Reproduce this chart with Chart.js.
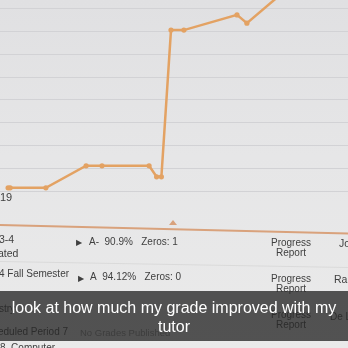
<!DOCTYPE html>
<html>
<head>
<meta charset="utf-8">
<script src="https://cdn.jsdelivr.net/npm/chart.js@4.4.1/dist/chart.umd.min.js"></script>
<style>
  html, body {
    margin: 0;
    padding: 0;
  }
  body {
    width: 348px;
    height: 348px;
    overflow: hidden;
    position: relative;
    font-family: "Liberation Sans", Arial, sans-serif;
    color: #404040;
    background: linear-gradient(180deg, #e0e0e2 0%, #e6e6e7 45%, #eaeaea 100%);
  }
  .chart-box {
    position: absolute;
    left: 0;
    top: 0;
    width: 348px;
    height: 200px;
  }
  .t {
    position: absolute;
    font-size: 10px;
    line-height: 10px;
    white-space: nowrap;
  }
  .c {
    text-align: center;
  }
  .timeline {
    position: absolute;
    left: -2px;
    top: 224px;
    width: 356px;
    height: 2px;
    background: #d9a27c;
    transform-origin: 0 50%;
    transform: rotate(1.4deg);
  }
  .marker {
    position: absolute;
    left: 169px;
    top: 220px;
    width: 0;
    height: 0;
    border-left: 4px solid transparent;
    border-right: 4px solid transparent;
    border-bottom: 5px solid #d9a27c;
  }
  .sep {
    position: absolute;
    left: 0;
    width: 348px;
    height: 1px;
    background: #dadada;
    transform-origin: 0 50%;
    transform: rotate(1deg);
  }
  .caption {
    position: absolute;
    left: 0;
    top: 291px;
    width: 348px;
    height: 50px;
    background: rgba(38, 38, 38, 0.78);
    color: #fff;
    font-size: 16px;
    line-height: 19px;
    text-align: center;
    padding-top: 7px;
    box-sizing: border-box;
  }
</style>
</head>
<body>
  <div class="chart-box"><canvas id="gradeChart" width="348" height="200"></canvas></div>

  <div class="t" style="left:0; top:192px; font-size:11px;">19</div>

  <div class="timeline"></div>
  <div class="marker"></div>

  <!-- row 1 -->
  <div class="t" style="left:-1px; top:234px; font-size:10.5px;">3-4</div>
  <div class="t" style="left:-2px; top:248px; font-size:10.5px;">ated</div>
  <div class="t" style="left:76px; top:238px; font-size:8px;">&#9654;</div>
  <div class="t" style="left:89px; top:237px;">A-&nbsp;&nbsp;90.9%&nbsp;&nbsp;&nbsp;Zeros: 1</div>
  <div class="t c" style="left:267px; top:238px; width:48px;">Progress<br>Report</div>
  <div class="t" style="left:339px; top:238px; font-size:10.5px;">Jo</div>

  <div class="sep" style="top:261px;"></div>

  <!-- row 2 -->
  <div class="t" style="left:-1px; top:269px;">4 Fall Semester</div>
  <div class="t" style="left:78px; top:274px; font-size:8px;">&#9654;</div>
  <div class="t" style="left:90px; top:272px;">A&nbsp;&nbsp;94.12%&nbsp;&nbsp;&nbsp;Zeros: 0</div>
  <div class="t c" style="left:267px; top:274px; width:48px;">Progress<br>Report</div>
  <div class="t" style="left:334px; top:274px; font-size:10.5px;">Ra</div>

  <!-- rows 3 / 4, mostly under the caption -->
  <div class="t" style="left:-1px; top:304px;">stry</div>
  <div class="t c" style="left:267px; top:310px; width:48px;">Progress<br>Report</div>
  <div class="t" style="left:330px; top:312px;">De L</div>
  <div class="t" style="left:-2px; top:327px;">eduled Period 7</div>
  <div class="t" style="left:80px; top:328px; color:#8a8a8a; font-size:9.5px;">No Grades Published</div>
  <div class="t" style="left:0; top:343px;">8&nbsp;&nbsp;Computer</div>

  <div class="caption">look at how much my grade improved with my<br>tutor</div>

<script>
// days since start of term for each recorded grade
const days = [2.7, 3.4, 15.3, 28.7, 34, 49.7, 52.2, 53.8, 57, 61.3, 79, 82.3, 96.7];
// running grade (%) at each of those days
const grades = [60.9, 60.9, 60.9, 65.7, 65.7, 65.7, 63.3, 63.3, 95.2, 95.2, 98.5, 96.7, 104.7];

const lineColor = "#e3a263";

const points = days.map((d, i) => ({ x: d, y: grades[i] }));

new Chart(document.getElementById("gradeChart"), {
  type: "line",
  data: {
    datasets: [
      {
        label: "Grade",
        data: points,
        borderColor: lineColor,
        backgroundColor: lineColor,
        borderWidth: 2.5,
        pointRadius: 2.6,
        pointBackgroundColor: lineColor,
        pointBorderColor: lineColor,
        pointBorderWidth: 0,
        tension: 0,
        fill: false,
      },
    ],
  },
  options: {
    responsive: false,
    animation: false,
    layout: { padding: 0, autoPadding: false },
    plugins: {
      legend: { display: false },
      tooltip: { enabled: false },
    },
    scales: {
      x: {
        type: "linear",
        min: 0,
        max: 116,
        display: false,
      },
      y: {
        type: "linear",
        min: 58.26,
        max: 101.74,
        afterFit: (scale) => {
          scale.width = 0;
        },
        border: { display: false },
        grid: {
          color: "#d2d2d5",
          lineWidth: 1,
          drawTicks: false,
        },
        ticks: {
          display: false,
          stepSize: 5,
          includeBounds: false,
        },
      },
    },
  },
});
</script>
</body>
</html>
